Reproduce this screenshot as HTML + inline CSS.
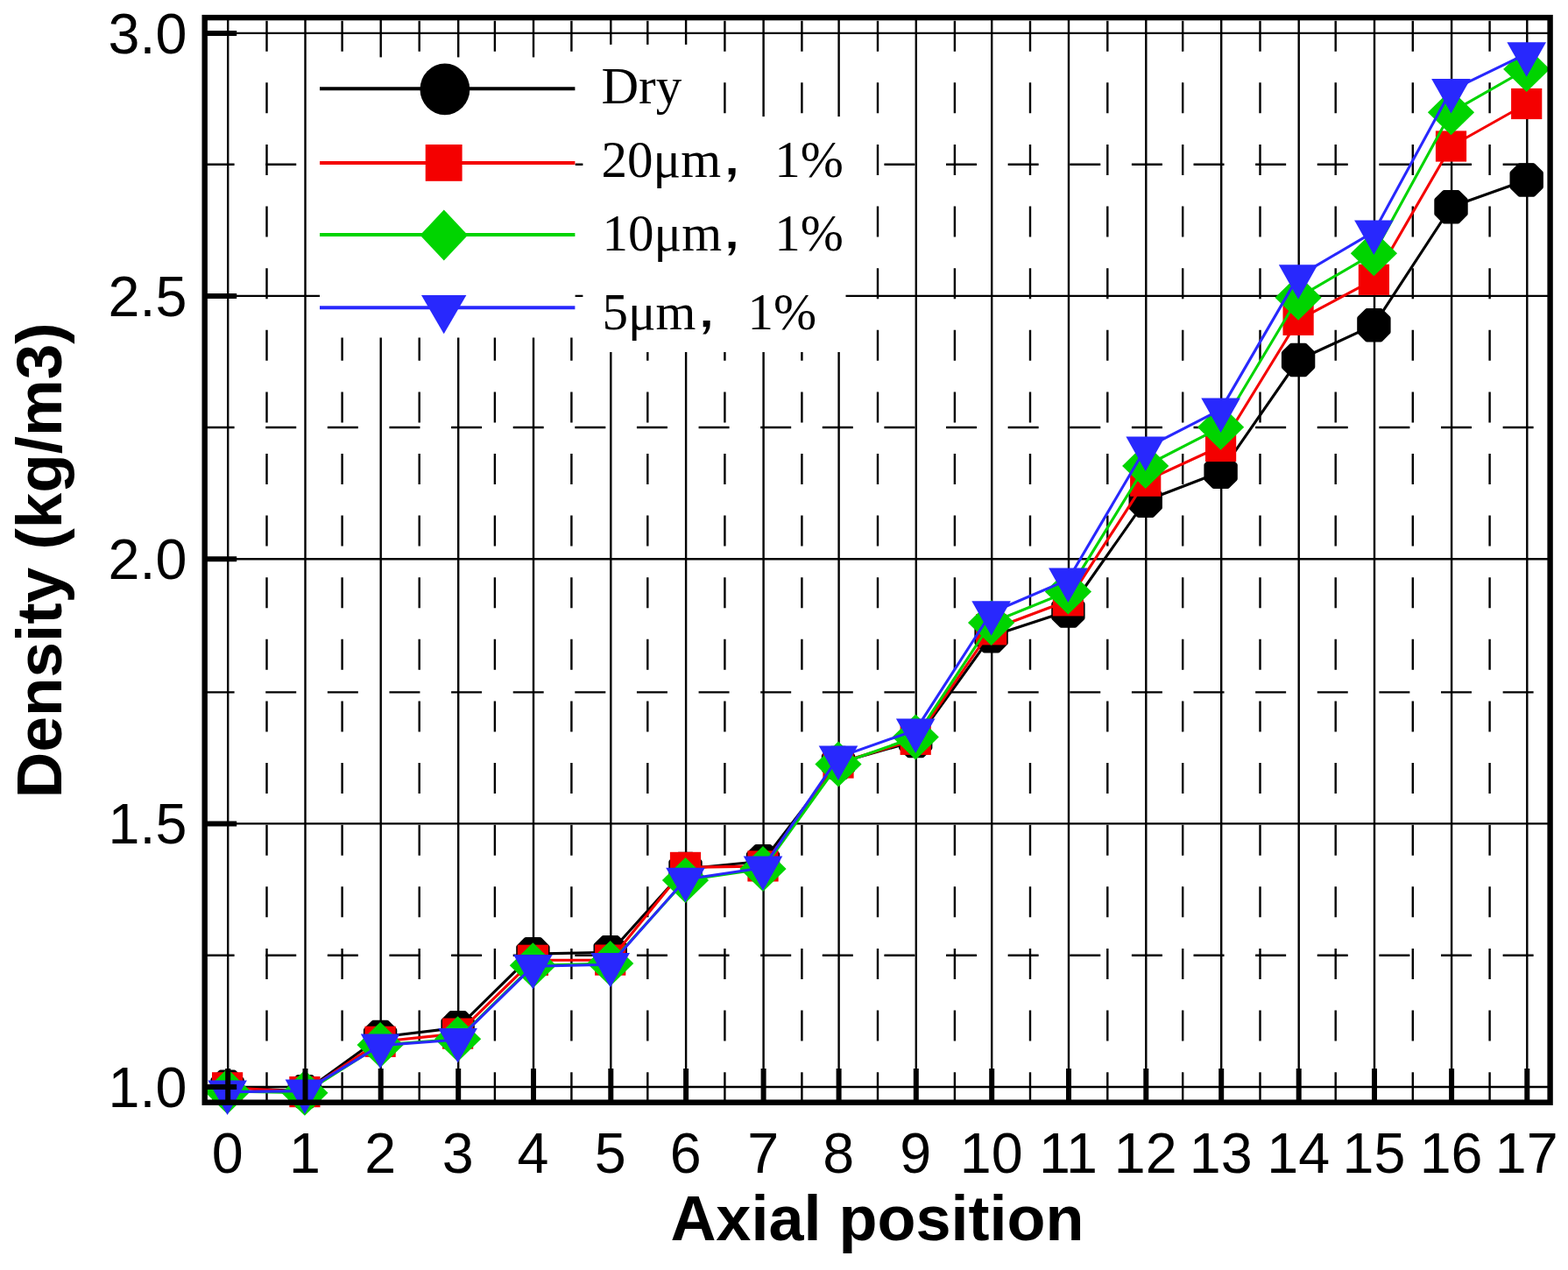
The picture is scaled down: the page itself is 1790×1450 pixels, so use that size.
<!DOCTYPE html>
<html lang="en">
<head>
<meta charset="utf-8">
<title>Density vs axial position</title>
<style>
html,body{margin:0;padding:0;background:#fff;}
body{width:1790px;height:1450px;overflow:hidden;}
svg{display:block;}
</style>
</head>
<body>
<svg width="1790" height="1450" viewBox="0 0 1790 1450" role="img" aria-label="Density versus axial position">
<rect width="1790" height="1450" fill="#fff"/>
<g stroke="#000" stroke-width="2.4" fill="none">
<path d="M260.2 20.1 V1258.7"/>
<path d="M348.5 20.1 V1258.7"/>
<path d="M434.7 20.1 V1258.7"/>
<path d="M523.2 20.1 V1258.7"/>
<path d="M609 20.1 V1258.7"/>
<path d="M697.3 20.1 V1258.7"/>
<path d="M783.1 20.1 V1258.7"/>
<path d="M871.6 20.1 V1258.7"/>
<path d="M957.6 20.1 V1258.7"/>
<path d="M1045.8 20.1 V1258.7"/>
<path d="M1132.2 20.1 V1258.7"/>
<path d="M1220 20.1 V1258.7"/>
<path d="M1308.3 20.1 V1258.7"/>
<path d="M1394.2 20.1 V1258.7"/>
<path d="M1482.7 20.1 V1258.7"/>
<path d="M1569 20.1 V1258.7"/>
<path d="M1657.1 20.1 V1258.7"/>
<path d="M1743.3 20.1 V1258.7"/>
<path d="M233.7 37.9 H1769.6"/>
<path d="M233.7 337.9 H1769.6"/>
<path d="M233.7 638.2 H1769.6"/>
<path d="M233.7 940.4 H1769.6"/>
<path d="M233.7 1241 H1769.6"/>
</g>
<g stroke="#000" stroke-width="2.4" fill="none" stroke-dasharray="35 35.62">
<path d="M304.5 1259.2 V20.1"/>
<path d="M390.6 1259.2 V20.1"/>
<path d="M478.7 1259.2 V20.1"/>
<path d="M564.9 1259.2 V20.1"/>
<path d="M652.4 1259.2 V20.1"/>
<path d="M739.3 1259.2 V20.1"/>
<path d="M827.4 1259.2 V20.1"/>
<path d="M915.4 1259.2 V20.1"/>
<path d="M1002 1259.2 V20.1"/>
<path d="M1089.9 1259.2 V20.1"/>
<path d="M1176 1259.2 V20.1"/>
<path d="M1264.3 1259.2 V20.1"/>
<path d="M1350.2 1259.2 V20.1"/>
<path d="M1438.5 1259.2 V20.1"/>
<path d="M1524.7 1259.2 V20.1"/>
<path d="M1612.8 1259.2 V20.1"/>
<path d="M1700.6 1259.2 V20.1"/>
<path d="M232.6 187.8 H1769.6"/>
<path d="M232.6 488 H1769.6"/>
<path d="M232.6 790.4 H1769.6"/>
<path d="M232.6 1090.8 H1769.6"/>
</g>
<g fill="#fff">
<rect x="365" y="65.4" width="291.6" height="320.1"/>
<rect x="665.4" y="50.9" width="145.6" height="82.4"/>
<rect x="665.4" y="133.1" width="330.6" height="180"/>
<rect x="665.4" y="313" width="300.1" height="89"/>
<rect x="665.4" y="130" width="145.6" height="8"/>
<rect x="665.4" y="308" width="300.1" height="10"/>
</g>
<g fill="#000000" stroke="none">
<polyline points="259.6,1240.7 347.9,1246.2 434.1,1184 522.6,1173.3 608.4,1089.1 696.7,1087.2 782.5,992 871,983.2 957,871 1045.2,846 1131.6,726.2 1219.4,697.5 1307.7,571.7 1393.6,538.8 1482.1,411 1568.4,371.2 1656.5,236.2 1742.7,205.5" fill="none" stroke="#000000" stroke-width="3.1" stroke-linejoin="round"/>
<polygon points="251.8,1224.5 267.4,1224.5 275.8,1232.9 275.8,1248.5 267.4,1256.9 251.8,1256.9 243.4,1248.5 243.4,1232.9" stroke="#000" stroke-width="6" stroke-linejoin="round"/>
<polygon points="340.1,1230 355.7,1230 364.1,1238.4 364.1,1254 355.7,1262.4 340.1,1262.4 331.7,1254 331.7,1238.4" stroke="#000" stroke-width="6" stroke-linejoin="round"/>
<polygon points="426.3,1167.8 441.9,1167.8 450.3,1176.2 450.3,1191.8 441.9,1200.2 426.3,1200.2 417.9,1191.8 417.9,1176.2" stroke="#000" stroke-width="6" stroke-linejoin="round"/>
<polygon points="514.8,1157.1 530.4,1157.1 538.8,1165.5 538.8,1181.1 530.4,1189.5 514.8,1189.5 506.4,1181.1 506.4,1165.5" stroke="#000" stroke-width="6" stroke-linejoin="round"/>
<polygon points="600.6,1072.9 616.2,1072.9 624.6,1081.3 624.6,1096.9 616.2,1105.3 600.6,1105.3 592.2,1096.9 592.2,1081.3" stroke="#000" stroke-width="6" stroke-linejoin="round"/>
<polygon points="688.9,1071 704.5,1071 712.9,1079.4 712.9,1095 704.5,1103.4 688.9,1103.4 680.5,1095 680.5,1079.4" stroke="#000" stroke-width="6" stroke-linejoin="round"/>
<polygon points="774.7,975.8 790.3,975.8 798.7,984.2 798.7,999.8 790.3,1008.2 774.7,1008.2 766.3,999.8 766.3,984.2" stroke="#000" stroke-width="6" stroke-linejoin="round"/>
<polygon points="863.2,967 878.8,967 887.2,975.4 887.2,991 878.8,999.4 863.2,999.4 854.8,991 854.8,975.4" stroke="#000" stroke-width="6" stroke-linejoin="round"/>
<polygon points="949.2,854.8 964.8,854.8 973.2,863.2 973.2,878.8 964.8,887.2 949.2,887.2 940.8,878.8 940.8,863.2" stroke="#000" stroke-width="6" stroke-linejoin="round"/>
<polygon points="1037.4,829.8 1053,829.8 1061.4,838.2 1061.4,853.8 1053,862.2 1037.4,862.2 1029,853.8 1029,838.2" stroke="#000" stroke-width="6" stroke-linejoin="round"/>
<polygon points="1123.8,710 1139.4,710 1147.8,718.4 1147.8,734 1139.4,742.4 1123.8,742.4 1115.4,734 1115.4,718.4" stroke="#000" stroke-width="6" stroke-linejoin="round"/>
<polygon points="1211.6,681.3 1227.2,681.3 1235.6,689.7 1235.6,705.3 1227.2,713.7 1211.6,713.7 1203.2,705.3 1203.2,689.7" stroke="#000" stroke-width="6" stroke-linejoin="round"/>
<polygon points="1299.9,555.5 1315.5,555.5 1323.9,563.9 1323.9,579.5 1315.5,587.9 1299.9,587.9 1291.5,579.5 1291.5,563.9" stroke="#000" stroke-width="6" stroke-linejoin="round"/>
<polygon points="1385.8,522.6 1401.4,522.6 1409.8,531 1409.8,546.6 1401.4,555 1385.8,555 1377.4,546.6 1377.4,531" stroke="#000" stroke-width="6" stroke-linejoin="round"/>
<polygon points="1474.3,394.8 1489.9,394.8 1498.3,403.2 1498.3,418.8 1489.9,427.2 1474.3,427.2 1465.9,418.8 1465.9,403.2" stroke="#000" stroke-width="6" stroke-linejoin="round"/>
<polygon points="1560.6,355 1576.2,355 1584.6,363.4 1584.6,379 1576.2,387.4 1560.6,387.4 1552.2,379 1552.2,363.4" stroke="#000" stroke-width="6" stroke-linejoin="round"/>
<polygon points="1648.7,220 1664.3,220 1672.7,228.4 1672.7,244 1664.3,252.4 1648.7,252.4 1640.3,244 1640.3,228.4" stroke="#000" stroke-width="6" stroke-linejoin="round"/>
<polygon points="1734.9,189.3 1750.5,189.3 1758.9,197.7 1758.9,213.3 1750.5,221.7 1734.9,221.7 1726.5,213.3 1726.5,197.7" stroke="#000" stroke-width="6" stroke-linejoin="round"/>
</g>
<g fill="#f40000" stroke="none">
<polyline points="259.6,1241.8 347.9,1246.6 434.1,1189.3 522.6,1180.1 608.4,1096.3 696.7,1096.1 782.5,990.4 871,988.9 957,871 1045.2,844.3 1131.6,718.8 1219.4,685.8 1307.7,549.2 1393.6,509.5 1482.1,365.3 1568.4,319.3 1656.5,167 1742.7,118.5" fill="none" stroke="#f40000" stroke-width="3.1" stroke-linejoin="round"/>
<rect x="242" y="1224.2" width="35.2" height="35.2"/>
<rect x="330.3" y="1229" width="35.2" height="35.2"/>
<rect x="416.5" y="1171.7" width="35.2" height="35.2"/>
<rect x="505" y="1162.5" width="35.2" height="35.2"/>
<rect x="590.8" y="1078.7" width="35.2" height="35.2"/>
<rect x="679.1" y="1078.5" width="35.2" height="35.2"/>
<rect x="764.9" y="972.8" width="35.2" height="35.2"/>
<rect x="853.4" y="971.3" width="35.2" height="35.2"/>
<rect x="939.4" y="853.4" width="35.2" height="35.2"/>
<rect x="1027.6" y="826.7" width="35.2" height="35.2"/>
<rect x="1114" y="701.2" width="35.2" height="35.2"/>
<rect x="1201.8" y="668.2" width="35.2" height="35.2"/>
<rect x="1290.1" y="531.6" width="35.2" height="35.2"/>
<rect x="1376" y="491.9" width="35.2" height="35.2"/>
<rect x="1464.5" y="347.7" width="35.2" height="35.2"/>
<rect x="1550.8" y="301.7" width="35.2" height="35.2"/>
<rect x="1638.9" y="149.4" width="35.2" height="35.2"/>
<rect x="1725.1" y="100.9" width="35.2" height="35.2"/>
</g>
<g fill="#00d400" stroke="none">
<polyline points="259.6,1246 347.9,1247.8 434.1,1193 522.6,1186.3 608.4,1102.3 696.7,1100 782.5,1005 871,992 957,872.5 1045.2,841.5 1131.6,711 1219.4,675.4 1307.7,532 1393.6,487.8 1482.1,339.7 1568.4,289.3 1656.5,128.2 1742.7,79" fill="none" stroke="#00d400" stroke-width="3.1" stroke-linejoin="round"/>
<polygon points="233,1246 259.6,1220 286.2,1246 259.6,1272"/>
<polygon points="321.3,1247.8 347.9,1221.8 374.5,1247.8 347.9,1273.8"/>
<polygon points="407.5,1193 434.1,1167 460.7,1193 434.1,1219"/>
<polygon points="496,1186.3 522.6,1160.3 549.2,1186.3 522.6,1212.3"/>
<polygon points="581.8,1102.3 608.4,1076.3 635,1102.3 608.4,1128.3"/>
<polygon points="670.1,1100 696.7,1074 723.3,1100 696.7,1126"/>
<polygon points="755.9,1005 782.5,979 809.1,1005 782.5,1031"/>
<polygon points="844.4,992 871,966 897.6,992 871,1018"/>
<polygon points="930.4,872.5 957,846.5 983.6,872.5 957,898.5"/>
<polygon points="1018.6,841.5 1045.2,815.5 1071.8,841.5 1045.2,867.5"/>
<polygon points="1105,711 1131.6,685 1158.2,711 1131.6,737"/>
<polygon points="1192.8,675.4 1219.4,649.4 1246,675.4 1219.4,701.4"/>
<polygon points="1281.1,532 1307.7,506 1334.3,532 1307.7,558"/>
<polygon points="1367,487.8 1393.6,461.8 1420.2,487.8 1393.6,513.8"/>
<polygon points="1455.5,339.7 1482.1,313.7 1508.7,339.7 1482.1,365.7"/>
<polygon points="1541.8,289.3 1568.4,263.3 1595,289.3 1568.4,315.3"/>
<polygon points="1629.9,128.2 1656.5,102.2 1683.1,128.2 1656.5,154.2"/>
<polygon points="1716.1,79 1742.7,53 1769.3,79 1742.7,105"/>
</g>
<g fill="#2828fd" stroke="none">
<polyline points="259.6,1246.6 347.9,1245.6 434.1,1193.6 522.6,1187.1 608.4,1103.3 696.7,1101.3 782.5,1004 871,990.7 957,864.6 1045.2,833.7 1131.6,699.5 1219.4,661.8 1307.7,511.7 1393.6,467.6 1482.1,315.4 1568.4,264.6 1656.5,103.1 1742.7,61.4" fill="none" stroke="#2828fd" stroke-width="3.1" stroke-linejoin="round"/>
<polygon points="237.3,1233.4 281.9,1233.4 259.6,1272.9"/>
<polygon points="325.6,1232.4 370.2,1232.4 347.9,1271.9"/>
<polygon points="411.8,1180.4 456.4,1180.4 434.1,1219.9"/>
<polygon points="500.3,1173.9 544.9,1173.9 522.6,1213.4"/>
<polygon points="586.1,1090.1 630.7,1090.1 608.4,1129.6"/>
<polygon points="674.4,1088.1 719,1088.1 696.7,1127.6"/>
<polygon points="760.2,990.8 804.8,990.8 782.5,1030.3"/>
<polygon points="848.7,977.5 893.3,977.5 871,1017"/>
<polygon points="934.7,851.4 979.3,851.4 957,890.9"/>
<polygon points="1022.9,820.5 1067.5,820.5 1045.2,860"/>
<polygon points="1109.3,686.3 1153.9,686.3 1131.6,725.8"/>
<polygon points="1197.1,648.6 1241.7,648.6 1219.4,688.1"/>
<polygon points="1285.4,498.5 1330,498.5 1307.7,538"/>
<polygon points="1371.3,454.4 1415.9,454.4 1393.6,493.9"/>
<polygon points="1459.8,302.2 1504.4,302.2 1482.1,341.7"/>
<polygon points="1546.1,251.4 1590.7,251.4 1568.4,290.9"/>
<polygon points="1634.2,89.9 1678.8,89.9 1656.5,129.4"/>
<polygon points="1720.4,48.2 1765,48.2 1742.7,87.7"/>
</g>
<rect x="233.7" y="20.1" width="1535.9" height="1238.6" fill="none" stroke="#000" stroke-width="6.4"/>
<g stroke="#000" stroke-width="6" fill="none">
<path d="M233.7 37.9 H270.2"/>
<path d="M233.7 337.9 H270.2"/>
<path d="M233.7 638.2 H270.2"/>
<path d="M233.7 940.4 H270.2"/>
<path d="M233.7 1241 H270.2"/>
<path d="M260.2 1258.7 V1220"/>
<path d="M348.5 1258.7 V1220"/>
<path d="M434.7 1258.7 V1220"/>
<path d="M523.2 1258.7 V1220"/>
<path d="M609 1258.7 V1220"/>
<path d="M697.3 1258.7 V1220"/>
<path d="M783.1 1258.7 V1220"/>
<path d="M871.6 1258.7 V1220"/>
<path d="M957.6 1258.7 V1220"/>
<path d="M1045.8 1258.7 V1220"/>
<path d="M1132.2 1258.7 V1220"/>
<path d="M1220 1258.7 V1220"/>
<path d="M1308.3 1258.7 V1220"/>
<path d="M1394.2 1258.7 V1220"/>
<path d="M1482.7 1258.7 V1220"/>
<path d="M1569 1258.7 V1220"/>
<path d="M1657.1 1258.7 V1220"/>
<path d="M1743.3 1258.7 V1220"/>
</g>
<g fill="#000000"><path d="M365 101.2 H656.4" stroke="#000000" stroke-width="4.0"/><ellipse cx="507.9" cy="101.9" rx="28.4" ry="29.3"/></g>
<g fill="#f40000"><path d="M365 186.1 H656.4" stroke="#f40000" stroke-width="4.0"/><rect x="485.7" y="165" width="41.9" height="41.8"/></g>
<g fill="#00d400"><path d="M365 268 H656.4" stroke="#00d400" stroke-width="4.0"/><polygon points="479.5,268.5 506.8,239.6 534.1,268.5 506.8,297.4"/></g>
<g fill="#2828fd"><path d="M365 351.3 H656.4" stroke="#2828fd" stroke-width="4.0"/><polygon points="481,337 532.4,337 506.7,381.3"/></g>
<g style="font-family:'Liberation Serif','Noto Serif CJK SC',serif;font-size:59px" fill="#000">
<text x="686.4" y="118">Dry</text>
<text x="686.6" y="202">20μm<tspan x="826.5" style="font-family:'Liberation Serif','IPAGothic',serif">，</tspan><tspan x="884.3">1%</tspan></text>
<text x="687.6" y="285.6">10μm<tspan x="826.5" style="font-family:'Liberation Serif','IPAGothic',serif">，</tspan><tspan x="884.3">1%</tspan></text>
<text x="687.4" y="376">5μm<tspan x="797.5" style="font-family:'Liberation Serif','IPAGothic',serif">，</tspan><tspan x="853.6">1%</tspan></text>
</g>
<g style="font-family:'Liberation Sans',sans-serif;font-size:64.6px" fill="#000">
<text x="213.4" y="60.9" text-anchor="end">3.0</text>
<text x="213.4" y="360.9" text-anchor="end">2.5</text>
<text x="213.4" y="661.2" text-anchor="end">2.0</text>
<text x="213.4" y="963.4" text-anchor="end">1.5</text>
<text x="213.4" y="1264" text-anchor="end">1.0</text>
<text x="259.7" y="1339" text-anchor="middle">0</text>
<text x="348" y="1339" text-anchor="middle">1</text>
<text x="434.2" y="1339" text-anchor="middle">2</text>
<text x="522.7" y="1339" text-anchor="middle">3</text>
<text x="608.5" y="1339" text-anchor="middle">4</text>
<text x="696.8" y="1339" text-anchor="middle">5</text>
<text x="782.6" y="1339" text-anchor="middle">6</text>
<text x="871.1" y="1339" text-anchor="middle">7</text>
<text x="957.1" y="1339" text-anchor="middle">8</text>
<text x="1045.3" y="1339" text-anchor="middle">9</text>
<text x="1131.7" y="1339" text-anchor="middle">10</text>
<text x="1219.5" y="1339" text-anchor="middle">11</text>
<text x="1307.8" y="1339" text-anchor="middle">12</text>
<text x="1393.7" y="1339" text-anchor="middle">13</text>
<text x="1482.2" y="1339" text-anchor="middle">14</text>
<text x="1568.5" y="1339" text-anchor="middle">15</text>
<text x="1656.6" y="1339" text-anchor="middle">16</text>
<text x="1742.8" y="1339" text-anchor="middle">17</text>
</g>
<g style="font-family:'Liberation Sans',sans-serif;font-weight:bold" fill="#000">
<text x="1001.4" y="1416.3" text-anchor="middle" style="font-size:72px">Axial position</text>
<text transform="translate(69.5 639.8) rotate(-90)" text-anchor="middle" style="font-size:72.9px">Density (kg/m3)</text>
</g>
</svg>
</body>
</html>
